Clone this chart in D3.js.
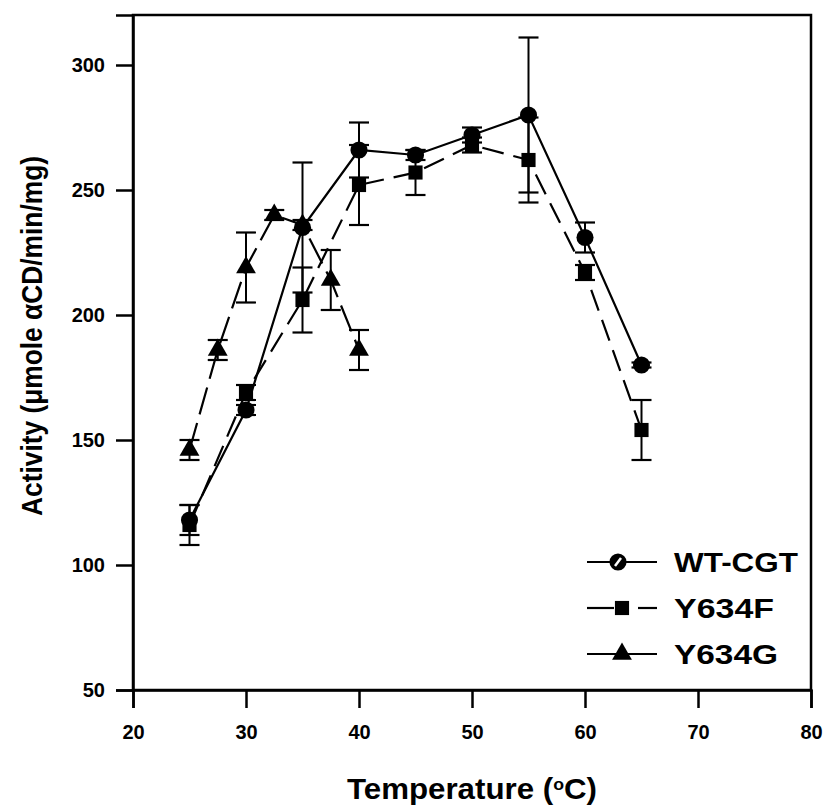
<!DOCTYPE html>
<html>
<head>
<meta charset="utf-8">
<script src="https://cdn.jsdelivr.net/npm/d3@7"></script>
<style>
    body { margin: 0; background: #fff; }
    svg { font-family: 'Liberation Sans', Arial, sans-serif; font-weight: bold; }
</style>
</head>
<body>
<div id="chart"></div>
<script>
// values
const xTicks = [20, 30, 40, 50, 60, 70, 80];
const yTicks = [50, 100, 150, 200, 250, 300];

const wtTemp = [25, 30, 35, 40, 45, 50, 55, 60, 65];
const wtAct = [118, 162, 235, 266, 264, 272, 280, 231, 180];
const wtErr = [6, 2, 26, 11, 2, 3, 31, 6, 1];

const fTemp = [25, 30, 35, 40, 45, 50, 55, 60, 65];
const fAct = [116, 169, 206, 252, 257, 268, 262, 217, 154];
const fErr = [8, 3, 13, 16, 9, 3, 17, 3, 12];

const gTemp = [25, 27.5, 30, 32.5, 35, 37.5, 40];
const gAct = [146, 186, 219, 240, 236, 214, 186];
const gErr = [4, 4, 14, 2, 2, 12, 8];

const seriesNames = ['WT-CGT', 'Y634F', 'Y634G'];

const width = 827, height = 811;
const margin = {top: 15, right: 16, bottom: 121, left: 133};

const svg = d3.select('#chart')
    .append('svg')
    .attr('width', width)
    .attr('height', height);

const x = d3.scaleLinear().domain([20, 80]).range([margin.left, width - margin.right]);
const y = d3.scaleLinear().domain([50, 320]).range([height - margin.bottom, margin.top]);

// frame
svg.append('rect')
    .attr('x', x(20)).attr('y', y(320))
    .attr('width', x(80) - x(20)).attr('height', y(50) - y(320))
    .attr('fill', 'none').attr('stroke', '#000').attr('stroke-width', 2.5);

const xAxis = svg.append('g')
    .attr('transform', `translate(0, ${y(50)})`)
    .call(d3.axisBottom(x).tickValues(xTicks).tickSize(18).tickPadding(17).tickFormat(d3.format('d')));
const yAxis = svg.append('g')
    .attr('transform', `translate(${x(20)}, 0)`)
    .call(d3.axisLeft(y).tickValues(yTicks).tickSize(17).tickPadding(11).tickFormat(d3.format('d')));

[xAxis, yAxis].forEach(a => {
    a.select('.domain').attr('stroke-width', 2.5);
    a.selectAll('.tick line').attr('stroke-width', 2.5);
    a.selectAll('.tick text').attr('font-size', 20).attr('font-weight', 'bold').attr('font-family', "'Liberation Sans', Arial, sans-serif");
});

// axis titles
svg.append('text')
    .attr('x', 472).attr('y', 799)
    .attr('text-anchor', 'middle')
    .attr('font-size', 30)
    .attr('textLength', 250)
    .attr('lengthAdjust', 'spacingAndGlyphs')
    .html('Temperature (<tspan baseline-shift="super" font-size="17">o</tspan>C)');

svg.append('text')
    .attr('transform', `translate(42, 336) rotate(-90)`)
    .attr('text-anchor', 'middle')
    .attr('font-size', 30)
    .attr('textLength', 360)
    .attr('lengthAdjust', 'spacingAndGlyphs')
    .text('Activity (\u03bcmole \u03b1CD/min/mg)');

const series = [
    {name: seriesNames[0], t: wtTemp, v: wtAct, e: wtErr, dash: null, shape: 'circle', w: 124},
    {name: seriesNames[1], t: fTemp, v: fAct, e: fErr, dash: '22,10', shape: 'square', w: 100},
    {name: seriesNames[2], t: gTemp, v: gAct, e: gErr, dash: '28,9', shape: 'triangle', w: 104}
];

const symbols = {
    circle: d3.symbol().type(d3.symbolCircle).size(230),
    square: d3.symbol().type(d3.symbolSquare).size(200),
    triangle: d3.symbol().type(d3.symbolTriangle).size(170)
};

const line = d3.line().x(d => x(d.t)).y(d => y(d.v));

series.forEach(s => {
    const pts = s.t.map((t, i) => ({t: t, v: s.v[i], e: s.e[i]}));
    const g = svg.append('g');

    g.append('path')
        .datum(pts)
        .attr('d', line)
        .attr('fill', 'none')
        .attr('stroke', '#000')
        .attr('stroke-width', 2.2)
        .attr('stroke-dasharray', s.dash);

    const bars = g.selectAll('.err')
        .data(pts)
        .enter()
        .append('g')
        .attr('class', 'err');
    bars.append('line')
        .attr('x1', d => x(d.t)).attr('x2', d => x(d.t))
        .attr('y1', d => y(d.v - d.e)).attr('y2', d => y(d.v + d.e))
        .attr('stroke', '#000').attr('stroke-width', 2);
    [-1, 1].forEach(sign => {
        bars.append('line')
            .attr('x1', d => x(d.t) - 10).attr('x2', d => x(d.t) + 10)
            .attr('y1', d => y(d.v + sign * d.e)).attr('y2', d => y(d.v + sign * d.e))
            .attr('stroke', '#000').attr('stroke-width', 2.2);
    });

    g.selectAll('.mark')
        .data(pts)
        .enter()
        .append('path')
        .attr('class', 'mark')
        .attr('transform', d => `translate(${x(d.t)}, ${y(d.v)})`)
        .attr('d', symbols[s.shape])
        .attr('fill', '#000');
});

// legend
const legendY = [562, 608, 654];
const legend = svg.append('g');
series.forEach((s, i) => {
    const ly = legendY[i];
    if (s.shape === 'square') {
        legend.append('line').attr('x1', 587).attr('x2', 614).attr('y1', ly).attr('y2', ly)
            .attr('stroke', '#000').attr('stroke-width', 2.2);
        legend.append('line').attr('x1', 638).attr('x2', 657).attr('y1', ly).attr('y2', ly)
            .attr('stroke', '#000').attr('stroke-width', 2.2);
    } else {
        legend.append('line').attr('x1', 587).attr('x2', 657).attr('y1', ly).attr('y2', ly)
            .attr('stroke', '#000').attr('stroke-width', 2.2);
    }
    legend.append('path')
        .attr('transform', `translate(${s.shape === 'circle' ? 618 : 622}, ${ly})`)
        .attr('d', symbols[s.shape])
        .attr('fill', '#000');
    if (s.shape === 'circle') {
        legend.append('line').attr('x1', 615).attr('x2', 621).attr('y1', ly + 4).attr('y2', ly - 4)
            .attr('stroke', '#fff').attr('stroke-width', 2.5);
    }
    legend.append('text')
        .attr('x', 674).attr('y', ly + 10)
        .attr('font-size', 28)
        .attr('textLength', s.w)
        .attr('lengthAdjust', 'spacingAndGlyphs')
        .text(s.name);
});
</script>
</body>
</html>
